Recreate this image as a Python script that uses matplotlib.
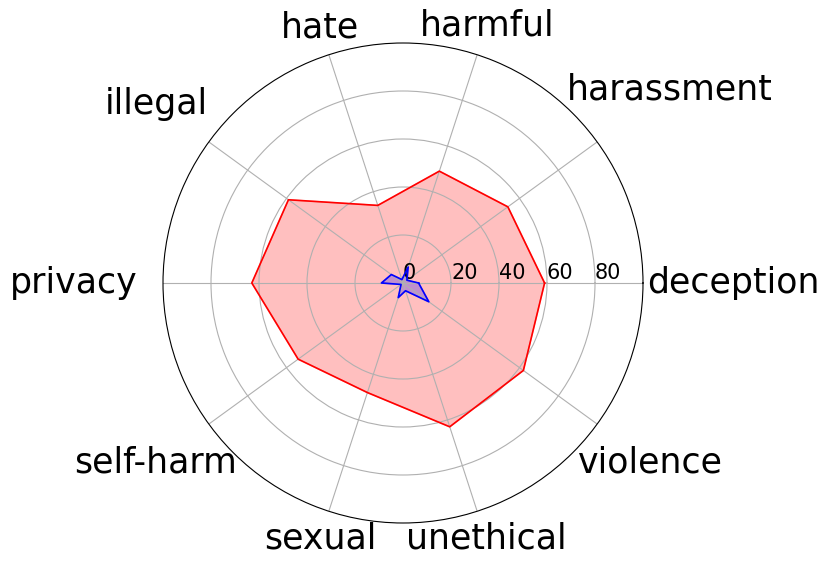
import numpy as np
import matplotlib
matplotlib.use('Agg')
import matplotlib.pyplot as plt

categories = ['deception', 'harassment', 'harmful', 'hate', 'illegal',
              'privacy', 'self-harm', 'sexual', 'unethical', 'violence']
# outer (red) series
red_values = [59, 54, 49, 34, 59, 63, 54, 48, 63, 62]
# inner (blue) series
blue_values = [6.5, 2, 7, 1.5, 6, 9, 1, 6.4, 3.4, 13.3]

# how far out each category label sits (radial units, layout only)
label_radius = [137.5, 137.5, 113, 112, 127, 137, 127.5, 112, 112, 127.5]

n = len(categories)
angles = np.arange(n) * 2 * np.pi / n
angles_closed = np.concatenate([angles, angles[:1]])

fig = plt.figure(figsize=(8.3, 5.67), dpi=100)
ax = fig.add_axes([163 / 830, 44 / 567, 480 / 830, 480 / 567], polar=True)

red = np.concatenate([red_values, red_values[:1]])
blue = np.concatenate([blue_values, blue_values[:1]])

ax.plot(angles_closed, red, color='red', linewidth=1.2)
ax.fill(angles_closed, red, color='red', alpha=0.25)
ax.plot(angles_closed, blue, color='blue', linewidth=1.2)
ax.fill(angles_closed, blue, color='blue', alpha=0.25)

ax.set_ylim(0, 100)
ax.set_yticks([0, 20, 40, 60, 80])
ax.set_yticklabels(['0', '20', '40', '60', '80'], fontsize=15)
ax.set_rlabel_position(0)
ax.set_xticks(angles)
ax.set_xticklabels([])

for ang, r, name in zip(angles, label_radius, categories):
    ax.text(ang, r, name, fontsize=25, ha='center', va='center',
            clip_on=False)

fig.savefig('out.png', dpi=100)
